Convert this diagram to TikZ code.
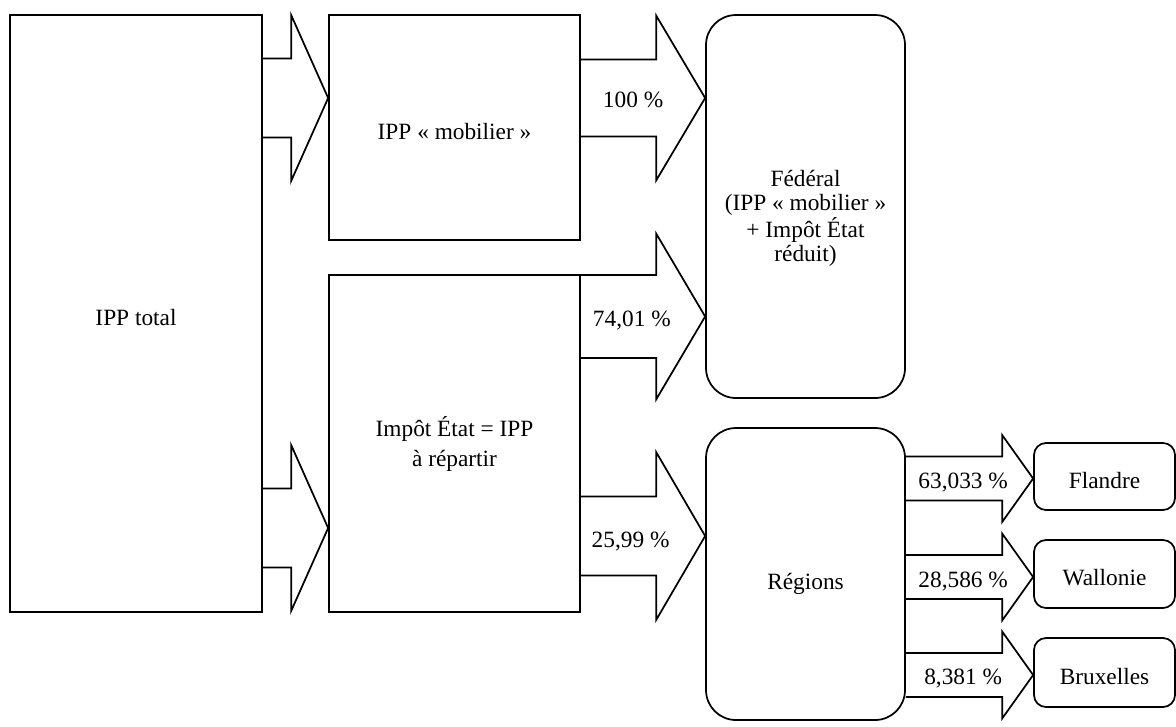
\documentclass[tikz,border=0pt]{standalone}
\usepackage{fontspec}
\setmainfont{Liberation Serif}
\usetikzlibrary{calc}
\tikzset{
  box/.style   ={draw,line width=1.3pt,inner sep=2pt,align=center,font=\fontsize{17.5}{18}\selectfont},
  rbox/.style  ={box,rounded corners=22.5pt},
  sbox/.style  ={box,rounded corners=9pt},
  barrow/.style={draw,line width=1.3pt,line join=miter},
  pct/.style   ={font=\fontsize{17.5}{18}\selectfont,inner sep=1pt},
}
% strut that pushes a box text down a little
\newcommand{\dn}[1]{\rule{0pt}{#1}}
% block arrow: #1 from, #2 to, #3 y, #4 shaft half, #5 head half, #6 head length
\newcommand{\blockarrow}[6]{%
  \draw[barrow] ($(#1.east|-0,#3)+(0,-#4)$) -- ($(#2.west|-0,#3)+(-#6,-#4)$)
    -- ($(#2.west|-0,#3)+(-#6,-#5)$) -- (#2.west|-0,#3)
    -- ($(#2.west|-0,#3)+(-#6,#5)$) -- ($(#2.west|-0,#3)+(-#6,#4)$)
    -- ($(#1.east|-0,#3)+(0,#4)$);}

\begin{document}
\begin{tikzpicture}[x=0.75pt,y=-0.75pt]
  \useasboundingbox (0,0) rectangle (1176,726);
  % left column
  \node[box,minimum width=189pt,minimum height=447.75pt] (total) at (136,313.5) {\dn{18pt}IPP total};
  % middle column
  \node[box,minimum width=188.25pt,minimum height=168.75pt] (mob) at (454.5,127.5) {\dn{18pt}IPP «~mobilier~»};
  \node[box,minimum width=188.25pt,minimum height=252.75pt] (etat) at (454.5,443.5) {\dn{15pt}Impôt État = IPP\\[4.5pt]à répartir};
  % receivers
  \node[rbox,minimum width=149.25pt,minimum height=287.25pt] (fed) at (805.5,206.5)
    {\dn{30pt}Fédéral\\(IPP «~mobilier~»\\+ Impôt État\\réduit)};
  \node[rbox,minimum width=149.25pt,minimum height=219pt] (reg) at (805.5,574) {\dn{27pt}Régions};
  % regions
  \node[sbox,minimum width=105.75pt,minimum height=50.25pt] (fla) at (1104.5,476.5) {\dn{18pt}Flandre};
  \node[sbox,minimum width=105.75pt,minimum height=51pt] (wal) at (1104.5,574) {\dn{18pt}Wallonie};
  \node[sbox,minimum width=105.75pt,minimum height=51.75pt] (bru) at (1104.5,672.5) {\dn{18pt}Bruxelles};
  % split of IPP total
  \blockarrow{total}{mob}{98}{39.5}{83}{37}
  \blockarrow{total}{etat}{528}{39.5}{83}{37}
  % federal / regional shares
  \blockarrow{mob}{fed}{98}{38.5}{82.5}{49}
  \blockarrow{etat}{fed}{316.5}{41.5}{83}{49}
  \blockarrow{etat}{reg}{536}{39.5}{84}{49}
  \foreach \n/\y in {fla/478.5, wal/577, bru/675}
    \blockarrow{reg}{\n}{\y}{22}{43.5}{31};
  % percentages
  \node[pct] (p100) at ($(mob.east|-0,100)!0.42!(fed.west|-0,100)$) {100~\%};
  \node[pct] (p74)  at ($(etat.east|-0,321)!0.41!(fed.west|-0,321)$) {74,01~\%};
  \node[pct] (p26)  at ($(etat.east|-0,542)!0.4!(reg.west|-0,542)$) {25,99~\%};
  \node[pct] (p63)  at ($(reg.east|-0,483)!0.45!(fla.west|-0,483)$) {63,033~\%};
  \node[pct] (p28)  at ($(reg.east|-0,582)!0.45!(wal.west|-0,582)$) {28,586~\%};
  \node[pct] (p8)   at ($(reg.east|-0,679)!0.45!(bru.west|-0,679)$) {8,381~\%};
\end{tikzpicture}
\end{document}
